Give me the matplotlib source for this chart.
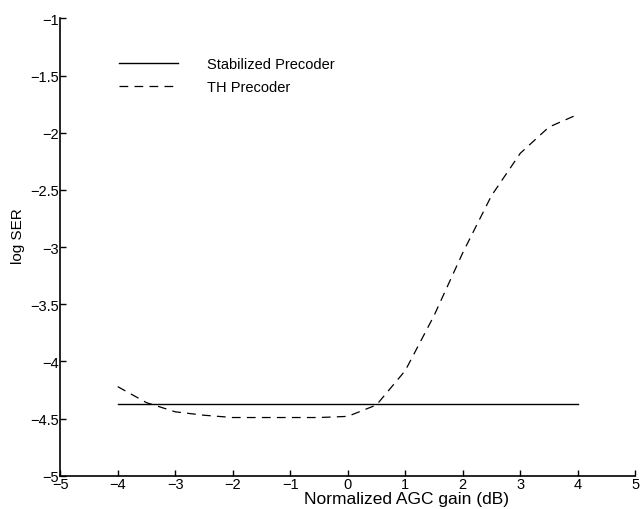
import numpy as np
from matplotlib import pyplot as plt

plt.rcParams['font.family'] = ['Liberation Sans', 'DejaVu Sans']

# data
gain = [-4, -3.5, -3, -2.5, -2, -1.5, -1, -0.5, 0, 0.5, 1, 1.5, 2, 2.5, 3, 3.5, 4]
th_ser = [-4.22, -4.36, -4.44, -4.47, -4.49, -4.49, -4.49, -4.49, -4.48, -4.38,
          -4.08, -3.60, -3.05, -2.55, -2.18, -1.95, -1.84]
stab_gain = [-4, 4]
stab_ser = [-4.37, -4.37]

fig = plt.figure(figsize=(6.41, 5.10), dpi=100)
ax = fig.add_axes([0.094, 0.065, 0.897, 0.897])

ax.plot(stab_gain, stab_ser, color='black', lw=1.0, label='Stabilized Precoder')
ax.plot(gain, th_ser, color='black', lw=0.9, linestyle=(0, (7, 5)), label='TH Precoder')

ax.set_xlim(-5, 5)
ax.set_ylim(-5, -1)
ax.set_xticks(np.arange(-5, 6, 1))
ax.set_yticks(np.arange(-5, -0.9, 0.5))
ax.set_yticklabels(['\u22125', '\u22124.5', '\u22124', '\u22123.5', '\u22123',
                    '\u22122.5', '\u22122', '\u22121.5', '\u22121'])
ax.set_xticklabels(['\u22125', '\u22124', '\u22123', '\u22122', '\u22121',
                    '0', '1', '2', '3', '4', '5'])
ax.tick_params(direction='in', length=4, width=1, labelsize=10.5, pad=1)
for s in ['top', 'right']:
    ax.spines[s].set_visible(False)
for s in ['left', 'bottom']:
    ax.spines[s].set_linewidth(1.2)

ax.set_xlabel('Normalized AGC gain (dB)', fontsize=12.5)
ax.xaxis.set_label_coords(0.602, -0.033)
ax.set_ylabel('log SER', fontsize=11)
ax.yaxis.set_label_coords(-0.061, 0.526)

ax.legend(loc='upper left', bbox_to_anchor=(0.08, 0.945), frameon=False,
          fontsize=10.5, handlelength=4.0, handletextpad=2.0, labelspacing=0.62)

fig.savefig('out.png', dpi=100)
